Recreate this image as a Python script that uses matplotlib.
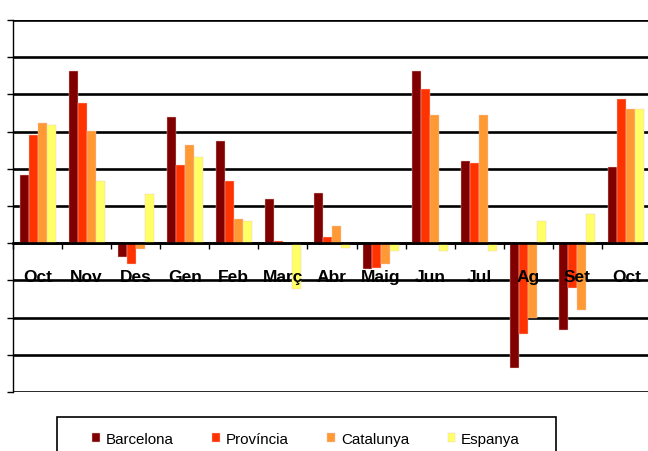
import numpy as np
import matplotlib
matplotlib.use('Agg')
import matplotlib.pyplot as plt
from matplotlib.patches import Rectangle

plt.rcParams['font.family'] = ['Liberation Sans', 'DejaVu Sans']

mesos = ['Oct', 'Nov', 'Des', 'Gen', 'Feb', 'Març', 'Abr', 'Maig', 'Jun', 'Jul', 'Ag', 'Set', 'Oct']
barcelona = [1.84, 4.63, -0.36, 3.40, 2.75, 1.20, 1.36, -0.69, 4.63, 2.22, -3.35, -2.34, 2.06]
provincia = [2.92, 3.78, -0.57, 2.11, 1.68, 0.07, 0.18, -0.67, 4.15, 2.16, -2.45, -1.21, 3.88]
catalunya = [3.24, 3.02, -0.15, 2.65, 0.66, 0.0, 0.45, -0.57, 3.45, 3.45, -2.01, -1.80, 3.61]
espanya = [3.18, 1.68, 1.31, 2.32, 0.61, -1.24, -0.13, -0.20, -0.20, -0.20, 0.61, 0.78, 3.61]

series = [('Barcelona', barcelona, '#800000'),
          ('Província', provincia, '#FF3300'),
          ('Catalunya', catalunya, '#FF9933'),
          ('Espanya', espanya, '#FFFF66')]

fig = plt.figure(figsize=(6.48, 4.52), dpi=100)
ax = fig.add_axes([13 / 648, 59 / 452, 638 / 648, 372 / 452])

x = np.arange(len(mesos))
w = 0.183
for i, (nom, vals, col) in enumerate(series):
    ax.bar(x + (i - 1.5) * w, vals, w, color=col, label=nom, zorder=3,
           edgecolor='#f4c8c8', linewidth=0.3)

ax.set_xlim(-0.5, len(mesos) - 0.5)
ax.set_ylim(-4, 6)
ax.set_yticks(np.arange(-4, 7, 1))
ax.set_yticklabels([])
ax.yaxis.grid(True, color='black', linewidth=1.9, zorder=1)
ax.set_axisbelow(True)

ax.spines['top'].set_visible(False)
ax.spines['right'].set_visible(False)
ax.spines['left'].set_linewidth(1.0)
ax.spines['bottom'].set_position(('data', 0))
ax.spines['bottom'].set_linewidth(1.9)
ax.spines['bottom'].set_zorder(4)

ax.set_xticks(np.arange(-0.5, len(mesos), 1))
ax.set_xticklabels([])
ax.tick_params(axis='x', direction='out', length=4, width=1)
ax.tick_params(axis='y', direction='out', length=4, width=1)

for xi, m in zip(x, mesos):
    ax.text(xi, -1.02, m, ha='center', va='baseline', fontsize=12.5,
            fontweight='bold', zorder=5)

# caixa de la llegenda
fig.patches.append(Rectangle((57 / 648, -0.1), (556 - 57) / 648, 0.1 + (452 - 418) / 452,
                             transform=fig.transFigure, fill=False,
                             edgecolor='black', linewidth=1.2))
fig.legend(loc='center', bbox_to_anchor=(306 / 648, 1 - 440 / 452), ncol=4,
           frameon=False, fontsize=10.9, handlelength=0.5, handleheight=0.55,
           handletextpad=0.4, columnspacing=2.55)

fig.savefig('out.png', dpi=100)
